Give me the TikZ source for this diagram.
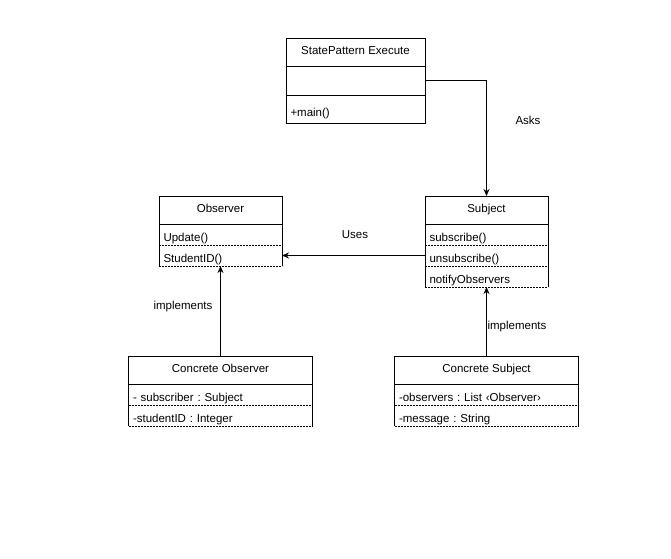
\documentclass[tikz,border=0pt]{standalone}
\usepackage{fontspec}
\setmainfont{Liberation Sans}
\usetikzlibrary{arrows.meta}
\def\rowh{21pt}

\begin{document}
\frenchspacing
\begin{tikzpicture}[x=1pt,y=-1pt,line width=1pt,>={Stealth[length=7pt,width=6pt]},font=\fontsize{11.5}{13}\selectfont]
    \tikzstyle{head}=[draw,anchor=north,minimum height=28pt,inner sep=0pt,outer sep=0pt,text height=8pt,text depth=3pt]
    \tikzstyle{member}=[anchor=north,minimum height=\rowh,inner xsep=4.5pt,inner ysep=0pt,outer sep=0pt,align=left,text height=14.5pt,text depth=0.5pt]
    \tikzstyle{sep}=[dash pattern=on 2pt off 1pt]
    \tikzstyle{annot}=[inner sep=0pt]

    \useasboundingbox (0,0) rectangle (671,558);

    % Draw the main class
    \node[head,minimum width=139pt] (SP) at (355.5,38) {StatePattern Execute};
    \node[draw,member,minimum height=29pt,text width=130pt] (SP-1) at (SP.south) {};
    \node[draw,member,minimum height=28pt,text width=130pt] (SP-2) at (SP-1.south) {+main()};

    % Draw the observer and the subject
    \node[head,minimum width=123pt] (O) at (220.5,196) {Observer};
    \node[member,text width=114pt] (O-1) at (O.south) {Update()};
    \node[member,text width=114pt] (O-2) at (O-1.south) {StudentID()};

    \node[head,minimum width=123pt] (S) at (486.5,196) {Subject};
    \node[member,text width=114pt] (S-1) at (S.south) {subscribe()};
    \node[member,text width=114pt] (S-2) at (S-1.south) {unsubscribe()};
    \node[member,text width=114pt] (S-3) at (S-2.south) {notifyObservers};

    % Draw the concrete classes
    \node[head,minimum width=184pt] (CO) at (220.5,356) {Concrete Observer};
    \node[member,text width=175pt] (CO-1) at (CO.south) {- subscriber : Subject};
    \node[member,text width=175pt] (CO-2) at (CO-1.south) {-studentID : Integer};

    \node[head,minimum width=184pt] (CS) at (486.5,356) {Concrete Subject};
    \node[member,text width=175pt] (CS-1) at (CS.south) {-observers : List ‹Observer›};
    \node[member,text width=175pt] (CS-2) at (CS-1.south) {-message : String};

    % Sides of the member rows, dashed bottom lines
    \foreach \name in {O-1,O-2,S-1,S-2,S-3,CO-1,CO-2,CS-1,CS-2} {
        \draw (\name.north west) -- (\name.south west) (\name.north east) -- (\name.south east);
        \draw[sep] (\name.south west) -- (\name.south east);
    }

    % Connect the classes
    \draw[->] (SP-1.east) -| (S.north);
    \draw[->] (S-2.west) -- (O-2.east);
    \draw[->] (CO.north) -- (O-2.south);
    \draw[->] (CS.north) -- (S-3.south);

    \node[annot] (asks) at (528,120) {Asks};
    \node[annot] (uses) at (355,235) {Uses};
    \node[annot] (impl-o) at (183,307) {implements};
    \node[annot] (impl-s) at (517,327) {implements};

\end{tikzpicture}
\end{document}
